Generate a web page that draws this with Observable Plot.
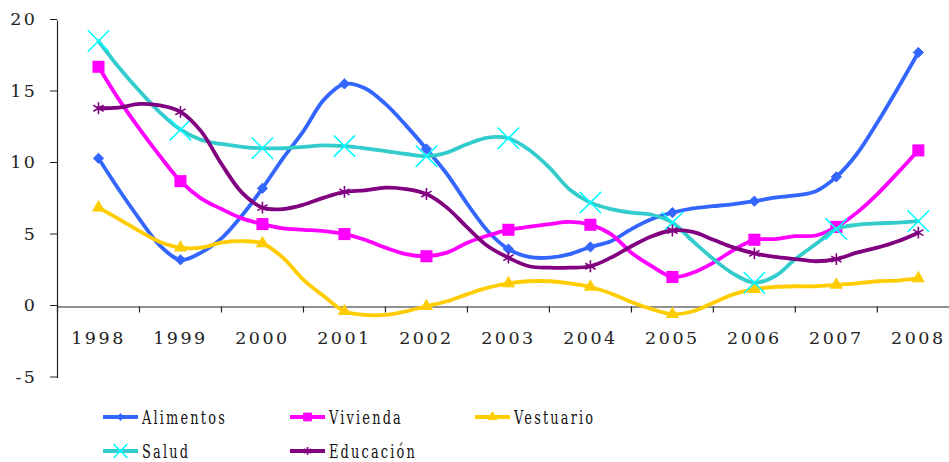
<!DOCTYPE html>
<html><head><meta charset="utf-8">
<script src="https://cdn.jsdelivr.net/npm/d3@7"></script>
<script src="https://cdn.jsdelivr.net/npm/@observablehq/plot@0.6"></script>
<style>
body{margin:0;background:#fff;}
#chart svg text{font-family:"DejaVu Serif" !important;letter-spacing:2.5px;}
#legend text{font-family:"DejaVu Serif";letter-spacing:3.2px;font-size:19px;fill:#111;}
</style></head><body><div id="chart"></div><div id="legend"></div><script>
const years = [1998,1999,2000,2001,2002,2003,2004,2005,2006,2007,2008];
const yTicks = [-5,0,5,10,15,20];
const seriesNames = ["Alimentos","Vivienda","Vestuario","Salud","Educación"];
// quarterly readings, 1998.00 .. 2008.00
const alimentos = [10.4,8.2,6.15,4.3, 3.3,3.8,4.8,6.4, 8.3,10.4,12.3,14.5, 15.6,15.3,14.2,12.7, 11.05,9.3,7.2,5.3, 4.05,3.5,3.45,3.7, 4.2,4.6,5.45,6.15, 6.6,6.9,7.05,7.2, 7.4,7.65,7.8,8.1, 9.1,10.7,12.9,15.3, 17.8];
const vivienda = [16.8,14.5,12.45,10.55, 8.8,7.6,6.85,6.2, 5.8,5.5,5.4,5.3, 5.1,4.7,4.15,3.7, 3.55,3.8,4.5,5.0, 5.4,5.6,5.8,5.95, 5.75,5.1,3.8,2.85, 2.1,2.4,3.1,4.0, 4.7,4.75,4.95,5.0, 5.6,6.6,7.9,9.4, 10.95];
const vestuario = [6.95,6.15,5.3,4.55, 4.15,4.15,4.5,4.6, 4.45,3.45,1.9,0.75, -0.3,-0.55,-0.55,-0.3, 0.05,0.4,0.9,1.35, 1.65,1.8,1.8,1.65, 1.4,0.95,0.35,-0.15, -0.5,-0.3,0.3,0.9, 1.25,1.4,1.45,1.45, 1.55,1.65,1.8,1.85, 2.0];
const salud = [18.6,16.75,15.1,13.6, 12.4,11.7,11.4,11.2, 11.1,11.1,11.2,11.3, 11.25,11.1,10.9,10.7, 10.55,10.8,11.4,11.85, 11.8,11.0,9.75,8.2, 7.3,6.85,6.6,6.45, 5.9,4.6,3.35,2.3, 1.7,2.15,3.35,4.4, 5.45,5.75,5.85,5.9, 6.0];
const educacion = [13.9,13.95,14.2,14.1, 13.65,12.3,10.0,8.0, 6.95,6.85,7.15,7.65, 8.05,8.15,8.35,8.25, 7.9,6.95,5.55,4.25, 3.45,2.85,2.75,2.75, 2.85,3.45,4.25,4.95, 5.35,5.25,4.7,4.15, 3.75,3.5,3.35,3.2, 3.35,3.8,4.15,4.6, 5.2];

const periods = alimentos.map((_, i) => years[0] + i / 4);
const boundaries = years.map(y => y - 0.5);

const styles = [
  {name: seriesNames[0], values: alimentos, line: "#3366FF", mark: "#3366FF", symbol: "diamond2", r: 4.6, filled: true, sw: 1, lsym: d3.symbolDiamond2, lsize: 31},
  {name: seriesNames[1], values: vivienda, line: "#FF00FF", mark: "#FF00FF", symbol: "square", r: 6.8, filled: true, sw: 0, lsym: d3.symbolSquare, lsize: 64},
  {name: seriesNames[2], values: vestuario, line: "#FFCC00", mark: "#FFCC00", symbol: "triangle", r: 4.9, filled: true, sw: 0, lsym: d3.symbolTriangle, lsize: 38},
  {name: seriesNames[3], values: salud, line: "#33CCCC", mark: "#00FFFF", symbol: "times", r: 9.8, filled: false, sw: 1.5, lsym: d3.symbolTimes, lsize: 128},
  {name: seriesNames[4], values: educacion, line: "#800080", mark: "#800080", symbol: "asterisk", r: 5.6, filled: false, sw: 1.6, lsym: d3.symbolAsterisk, lsize: 45}
];

const marks = [
  Plot.ruleY([0], {stroke: "#222", strokeWidth: 1.2}),
  Plot.ruleX([boundaries[0]], {y1: -5, y2: 20, stroke: "#222", strokeWidth: 1.2}),
  Plot.ruleX(boundaries, {y1: 0, y2: -0.42, stroke: "#222", strokeWidth: 1.2}),
  Plot.axisY(yTicks, {tickSize: 7, tickPadding: 13, fontSize: 17.5, stroke: "#222", fill: "#222", label: null, dy: -1.5, tickFormat: d => String(d)}),
  Plot.text(years, {x: d => d, y: 0, text: d => String(d), dy: 37, lineAnchor: "bottom", fontSize: 17.5, fill: "#222"})
];
for (const s of styles) {
  const rows = s.values.map((v, i) => ({x: periods[i], y: v}));
  marks.push(Plot.line(rows, {x: "x", y: "y", stroke: s.line, strokeWidth: 3.8, curve: "catmull-rom"}));
  marks.push(Plot.dot(rows.filter((d, i) => i % 4 === 0), {
    x: "x", y: "y", symbol: s.symbol, r: s.r,
    fill: s.filled ? s.mark : "none", stroke: s.mark, strokeWidth: s.sw
  }));
}

const chart = Plot.plot({
  width: 949, height: 392,
  marginLeft: 57, marginRight: 0, marginTop: 20.5, marginBottom: 14,
  style: {fontFamily: "'DejaVu Serif'"},
  x: {domain: [1997.5, 2008.38], axis: null},
  y: {domain: [-5, 20], axis: null},
  marks
});
document.getElementById("chart").appendChild(chart);

// legend
const lg = d3.select("#legend").append("svg").attr("width", 949).attr("height", 70).style("display", "block");
const cols = [103, 290, 475];
const rowsY = [25, 59];
styles.forEach((s, i) => {
  const cx = cols[i % 3], cy = rowsY[Math.floor(i / 3)];
  const g = lg.append("g");
  g.append("line").attr("x1", cx).attr("x2", cx + 35).attr("y1", cy).attr("y2", cy)
    .attr("stroke", s.line).attr("stroke-width", 3.8);
  g.append("path").attr("d", d3.symbol(s.lsym, s.lsize)())
    .attr("transform", `translate(${cx + 17.5},${cy})`)
    .attr("fill", s.filled ? s.mark : "none").attr("stroke", s.mark).attr("stroke-width", s.filled ? 0.8 : 1.6);
  g.append("text").attr("transform", `translate(${cx + 39},${cy + 7}) scale(0.68,1)`).text(s.name);
});
</script></body></html>
